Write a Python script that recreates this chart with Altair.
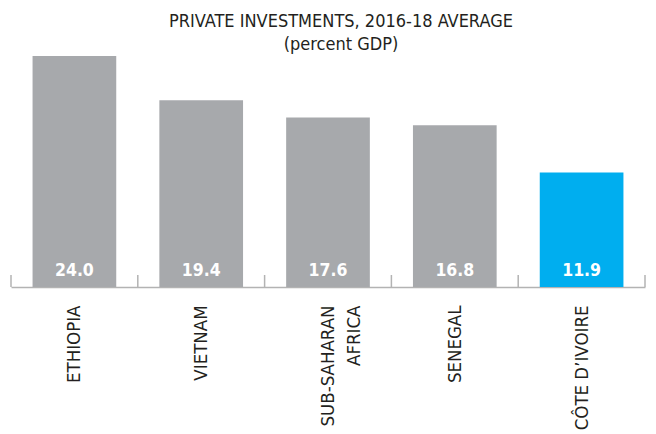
import altair as alt
import pandas as pd

countries = ["ETHIOPIA", "VIETNAM", "SUB-SAHARAN|AFRICA", "SENEGAL", "CÔTE D’IVOIRE"]
values = [24.0, 19.4, 17.6, 16.8, 11.9]
colors = ["#A7A9AC", "#A7A9AC", "#A7A9AC", "#A7A9AC", "#00AEEF"]
labels = ["24.0", "19.4", "17.6", "16.8", "11.9"]

df = pd.DataFrame({"country": countries, "value": values, "color": colors, "label": labels})
last_df = df.tail(1)

FONT = "DejaVu Sans Condensed, sans-serif"
DARK = "#231F20"
AXIS_GREY = "#B3B3B3"

W = 634
H = 231
P_INNER = 0.34
P_OUTER = 0.17
STEP = W / (len(countries) - P_INNER + 2 * P_OUTER)
HALF_GAP_PX = STEP * P_INNER / 2

xscale = alt.Scale(domain=countries, paddingInner=P_INNER, paddingOuter=P_OUTER)
yscale = alt.Scale(domain=[0, 24], nice=False)

base = alt.Chart(df)

bars = base.mark_bar().encode(
    x=alt.X(
        "country:N",
        sort=None,
        scale=xscale,
        axis=alt.Axis(
            title=None,
            labelAngle=-90,
            labelAlign="right",
            labelBaseline="middle",
            ticks=False,
            labelPadding=18,
            domainColor=AXIS_GREY,
            domainWidth=1.5,
            labelFont=FONT,
            labelFontSize=18.5,
            labelColor=DARK,
            labelLineHeight=26,
            labelExpr="split(datum.label, '|')",
        ),
    ),
    y=alt.Y("value:Q", scale=yscale, axis=None),
    color=alt.Color("color:N", scale=None),
)

text = base.mark_text(
    baseline="alphabetic",
    dy=-11,
    font=FONT,
    fontSize=17.5,
    fontWeight="bold",
    color="white",
).encode(
    x=alt.X("country:N", sort=None, scale=xscale),
    y=alt.datum(0),
    text="label:N",
)

ticks_left = base.mark_rule(color=AXIS_GREY, strokeWidth=1.5, xOffset=-HALF_GAP_PX).encode(
    x=alt.X("country:N", sort=None, scale=xscale, bandPosition=0),
    y=alt.datum(0),
    y2=alt.datum(1.25),
)

ticks_right = alt.Chart(last_df).mark_rule(color=AXIS_GREY, strokeWidth=1.5, xOffset=HALF_GAP_PX).encode(
    x=alt.X("country:N", sort=None, scale=xscale, bandPosition=1),
    y=alt.datum(0),
    y2=alt.datum(1.25),
)

chart = (
    alt.layer(bars, ticks_left, ticks_right, text)
    .properties(
        width=W,
        height=H,
        padding={"left": 2, "top": 5, "right": 0, "bottom": 0},
        title=alt.Title(
            ["PRIVATE INVESTMENTS, 2016-18 AVERAGE", "(percent GDP)"],
            font=FONT,
            fontSize=18,
            fontWeight="normal",
            color=DARK,
            anchor="middle",
            dx=13,
            lineHeight=23,
            offset=2,
        ),
    )
    .configure_view(stroke=None)
)

chart.save("out.html", embed_options={"renderer": "svg", "actions": False})
